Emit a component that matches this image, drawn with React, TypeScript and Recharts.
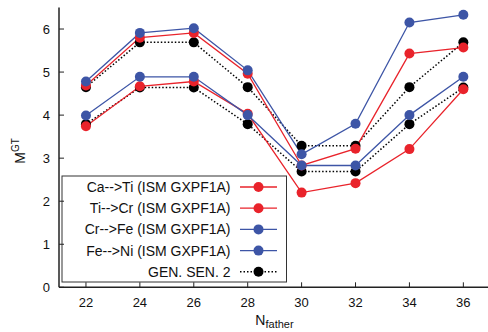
import React from "react";
import { LineChart, Line, XAxis, YAxis } from "recharts";

// Neutron number of the parent nucleus
const nFather = [22, 24, 26, 28, 30, 32, 34, 36];

// Gamow-Teller matrix elements, ISM GXPF1A
const caTi = [3.74, 4.67, 4.78, 4.03, 2.2, 2.42, 3.21, 4.6];
const tiCr = [4.69, 5.8, 5.91, 4.96, 2.83, 3.22, 5.43, 5.57];
const crFe = [3.99, 4.89, 4.89, 4.0, 2.83, 2.83, 4.0, 4.89];
const feNi = [4.78, 5.91, 6.02, 5.04, 3.09, 3.8, 6.15, 6.33];

// Generalized seniority 2 estimate (two branches)
const genSenLow = [3.79, 4.64, 4.64, 3.79, 2.69, 2.69, 3.79, 4.64];
const genSenHigh = [4.65, 5.69, 5.69, 4.65, 3.29, 3.29, 4.65, 5.69];

const xTicks = [22, 24, 26, 28, 30, 32, 34, 36];
const yTicks = [0, 1, 2, 3, 4, 5, 6];

const RED = "#e9232b";
const BLUE = "#3d55a6";
const BLACK = "#000000";
const FONT = "'Liberation Sans', Arial, sans-serif";

const data = nFather.map((n, i) => ({
  n,
  caTi: caTi[i],
  tiCr: tiCr[i],
  crFe: crFe[i],
  feNi: feNi[i],
  gLow: genSenLow[i],
  gHigh: genSenHigh[i],
}));

const legendItems = [
  { label: "Ca-->Ti (ISM GXPF1A)", color: RED, dotted: false },
  { label: "Ti-->Cr (ISM GXPF1A)", color: RED, dotted: false },
  { label: "Cr-->Fe (ISM GXPF1A)", color: BLUE, dotted: false },
  { label: "Fe-->Ni (ISM GXPF1A)", color: BLUE, dotted: false },
  { label: "GEN. SEN. 2", color: BLACK, dotted: true },
];

const TICK_LEN = 5;
const AXIS_COLOR = "#222";

// Ticks point into the plot frame; labels sit outside it
const BottomTick = (props: any) => {
  const { x, y, payload } = props;
  return (
    <g>
      <line x1={x} x2={x} y1={y} y2={y - TICK_LEN} stroke={AXIS_COLOR} strokeWidth={1} />
      <text x={x} y={y + 19.5} textAnchor="middle" fontSize={13} fontFamily={FONT} fill="#111">
        {payload.value}
      </text>
    </g>
  );
};

const LeftTick = (props: any) => {
  const { x, y, payload } = props;
  return (
    <g>
      <line x1={x} x2={x + TICK_LEN} y1={y} y2={y} stroke={AXIS_COLOR} strokeWidth={1} />
      <text x={x - 9} y={y + 4.5} textAnchor="end" fontSize={13} fontFamily={FONT} fill="#111">
        {payload.value}
      </text>
    </g>
  );
};

const TopTick = (props: any) => {
  const { x, y } = props;
  return <line x1={x} x2={x} y1={y} y2={y + TICK_LEN} stroke={AXIS_COLOR} strokeWidth={1} />;
};

const RightTick = (props: any) => {
  const { x, y } = props;
  return <line x1={x} x2={x - TICK_LEN} y1={y} y2={y} stroke={AXIS_COLOR} strokeWidth={1} />;
};

const Legend = () => (
  <g>
    <rect x={62} y={176} width={224.5} height={106} fill="#fff" stroke="#333" strokeWidth={1} />
    {legendItems.map((it, i) => {
      const cy = 187 + i * 21.2;
      return (
        <g key={it.label}>
          <text x={230.5} y={cy + 5} textAnchor="end" fontSize={14} fontFamily={FONT} fill="#111">
            {it.label}
          </text>
          <line
            x1={240}
            x2={277}
            y1={cy}
            y2={cy}
            stroke={it.color}
            strokeWidth={it.dotted ? 1.5 : 1.3}
            strokeDasharray={it.dotted ? "1.5 2" : undefined}
          />
          <circle cx={258.5} cy={cy} r={5} fill={it.color} />
        </g>
      );
    })}
  </g>
);

const dot = (color: string) => ({ r: 5, fill: color, stroke: color, strokeWidth: 0 });

const axisCommon = {
  tickSize: 0,
  tickMargin: 0,
  tickLine: false,
  interval: 0 as const,
  axisLine: { stroke: AXIS_COLOR, strokeWidth: 1.5 },
};

export default function App() {
  return (
    <div style={{ position: "absolute", left: 0, top: 0, width: 488, height: 332, overflow: "hidden", background: "#fff" }}>
      <LineChart
        width={492}
        height={332}
        data={data}
        margin={{ top: 7.5, right: 1.7, bottom: 0, left: 0 }}
        style={{ overflow: "visible" }}
      >
        <XAxis
          {...axisCommon}
          xAxisId="b"
          dataKey="n"
          type="number"
          domain={[21, 37]}
          ticks={xTicks}
          height={44.7}
          tick={<BottomTick />}
        />
        <XAxis
          {...axisCommon}
          xAxisId="t"
          orientation="top"
          dataKey="n"
          type="number"
          domain={[21, 37]}
          ticks={xTicks}
          height={0}
          tick={<TopTick />}
        />
        <YAxis
          {...axisCommon}
          yAxisId="l"
          type="number"
          domain={[0, 6.5]}
          ticks={yTicks}
          width={59}
          tick={<LeftTick />}
        />
        <YAxis
          {...axisCommon}
          yAxisId="r"
          orientation="right"
          type="number"
          domain={[0, 6.5]}
          ticks={yTicks}
          width={0}
          tick={<RightTick />}
        />
        <Line xAxisId="b" yAxisId="l" dataKey="gLow" stroke={BLACK} strokeWidth={1.5} strokeDasharray="1.5 2" dot={dot(BLACK)} isAnimationActive={false} />
        <Line xAxisId="b" yAxisId="l" dataKey="gHigh" stroke={BLACK} strokeWidth={1.5} strokeDasharray="1.5 2" dot={dot(BLACK)} isAnimationActive={false} />
        <Line xAxisId="b" yAxisId="l" dataKey="caTi" stroke={RED} strokeWidth={1.3} dot={dot(RED)} isAnimationActive={false} />
        <Line xAxisId="b" yAxisId="l" dataKey="tiCr" stroke={RED} strokeWidth={1.3} dot={dot(RED)} isAnimationActive={false} />
        <Line xAxisId="b" yAxisId="l" dataKey="crFe" stroke={BLUE} strokeWidth={1.3} dot={dot(BLUE)} isAnimationActive={false} />
        <Line xAxisId="b" yAxisId="l" dataKey="feNi" stroke={BLUE} strokeWidth={1.3} dot={dot(BLUE)} isAnimationActive={false} />
        <Legend />
        <text x={25} y={151} transform="rotate(-90 25 151)" textAnchor="middle" fontSize={14} fontFamily={FONT} fill="#111">
          M<tspan fontSize={10} dy={-6}>GT</tspan>
        </text>
        <text x={274.5} y={325} textAnchor="middle" fontSize={14} fontFamily={FONT} fill="#111">
          N<tspan fontSize={11} dy={3}>father</tspan>
        </text>
      </LineChart>
    </div>
  );
}
